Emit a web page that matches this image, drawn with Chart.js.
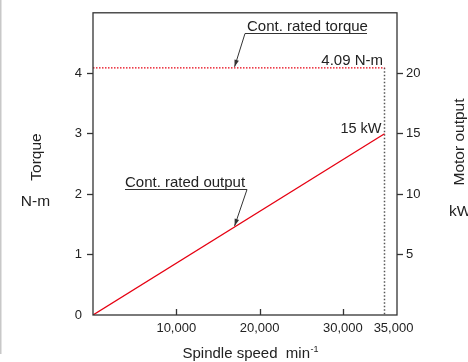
<!DOCTYPE html>
<html>
<head>
<meta charset="utf-8">
<script src="https://cdn.jsdelivr.net/npm/chart.js@4/dist/chart.umd.min.js"></script>
<style>
    html, body { margin: 0; padding: 0; background: #fff; }
    #wrap { width: 468px; height: 362px; }
</style>
</head>
<body>
<div id="wrap"><canvas id="chart" width="468" height="362"></canvas></div>
<script>
const speed = [0, 35000];
const output = [0, 15];
const torque = [4.09, 4.09];
const torqueTicks = [0, 1, 2, 3, 4];
const powerTicks = [5, 10, 15, 20];
const speedTicks = [10000, 20000, 30000, 35000];
const speedLabels = ["10,000", "20,000", "30,000", "35,000"];

const FONT = "'Liberation Sans', Arial, Helvetica, sans-serif";
const INK = "#222";
const RED = "#e60012";

function arrow(ctx, x0, y0, x1, y1) {
    ctx.beginPath();
    ctx.moveTo(x0, y0);
    ctx.lineTo(x1, y1);
    ctx.stroke();
    const a = Math.atan2(y1 - y0, x1 - x0);
    const len = 7, half = 2.3;
    ctx.beginPath();
    ctx.moveTo(x1, y1);
    ctx.lineTo(x1 - len * Math.cos(a) + half * Math.sin(a), y1 - len * Math.sin(a) - half * Math.cos(a));
    ctx.lineTo(x1 - len * Math.cos(a) - half * Math.sin(a), y1 - len * Math.sin(a) + half * Math.cos(a));
    ctx.closePath();
    ctx.fill();
}

const decorations = {
    id: "decorations",
    afterDraw(chart) {
        const ctx = chart.ctx;
        const area = chart.chartArea;
        const x = chart.scales.x, y = chart.scales.y, yR = chart.scales.yR;
        ctx.save();

        // light page edge
        ctx.strokeStyle = "#c8c8c8";
        ctx.lineWidth = 1.5;
        ctx.beginPath();
        ctx.moveTo(0.75, 0);
        ctx.lineTo(0.75, 354);
        ctx.stroke();

        // frame
        ctx.strokeStyle = "#333";
        ctx.lineWidth = 1.3;
        ctx.strokeRect(area.left, area.top, area.right - area.left, area.bottom - area.top);

        // inward x ticks
        ctx.beginPath();
        speedTicks.slice(0, 3).forEach(v => {
            const px = Math.round(x.getPixelForValue(v)) + 0.5;
            ctx.moveTo(px, area.bottom);
            ctx.lineTo(px, area.bottom - 6);
        });
        ctx.stroke();

        // x labels
        ctx.fillStyle = INK;
        ctx.font = "13px " + FONT;
        ctx.textAlign = "center";
        ctx.textBaseline = "middle";
        speedTicks.forEach((v, i) => {
            const shift = v === 35000 ? 9 : 0;
            ctx.fillText(speedLabels[i], x.getPixelForValue(v) + shift, 328);
        });

        // axis titles
        ctx.font = "15px " + FONT;
        ctx.textAlign = "left";
        ctx.textBaseline = "alphabetic";
        const main = "Spindle speed  min";
        const w = ctx.measureText(main).width;
        ctx.font = "9px " + FONT;
        const sw = ctx.measureText("-1").width;
        const start = 250.5 - (w + sw + 0.5) / 2;
        ctx.fillText("-1", start + w + 0.5, 351.5);
        ctx.font = "15px " + FONT;
        ctx.fillText(main, start, 358);

        ctx.font = "15.5px " + FONT;
        ctx.textAlign = "center";
        ctx.textBaseline = "middle";
        ctx.fillText("N-m", 35.5, 202);
        ctx.save();
        ctx.translate(36.5, 157);
        ctx.rotate(-Math.PI / 2);
        ctx.fillText("Torque", 0, 0);
        ctx.restore();
        ctx.save();
        ctx.translate(460, 142);
        ctx.rotate(-Math.PI / 2);
        ctx.fillText("Motor output", 0, 0);
        ctx.restore();
        ctx.textAlign = "left";
        ctx.fillText("kW", 449, 212);

        // annotations
        ctx.font = "15px " + FONT;
        ctx.textBaseline = "alphabetic";
        ctx.textAlign = "right";
        ctx.fillText("4.09 N-m", 383, 64.5);
        ctx.font = "14.5px " + FONT;
        ctx.fillText("15 kW", 381.5, 133);

        ctx.font = "15px " + FONT;
        ctx.textAlign = "left";
        ctx.fillText("Cont. rated torque", 247, 30.5);
        ctx.fillText("Cont. rated output", 125, 186.5);

        ctx.strokeStyle = "#333";
        ctx.fillStyle = "#333";
        ctx.lineWidth = 1;
        ctx.beginPath();
        ctx.moveTo(245, 33.5);
        ctx.lineTo(367, 33.5);
        ctx.moveTo(125, 189.5);
        ctx.lineTo(247, 189.5);
        ctx.stroke();

        const tx = x.getPixelForValue(17000);
        arrow(ctx, 245, 33.5, tx, y.getPixelForValue(torque[0]) - 1);
        const oy = yR.getPixelForValue(output[1] * 17000 / speed[1]);
        arrow(ctx, 247, 189.5, tx, oy - 1);

        ctx.restore();
    }
};

new Chart(document.getElementById("chart"), {
    type: "scatter",
    data: {
        datasets: [
            {
                label: "Cont. rated output",
                data: speed.map((s, i) => ({ x: s, y: output[i] })),
                yAxisID: "yR",
                showLine: true,
                borderColor: RED,
                borderWidth: 1.3,
                pointRadius: 0,
            },
            {
                label: "Cont. rated torque",
                data: speed.map((s, i) => ({ x: s, y: torque[i] })),
                yAxisID: "y",
                showLine: true,
                borderColor: RED,
                borderWidth: 1.3,
                borderDash: [1.5, 1.5],
                pointRadius: 0,
            },
            {
                label: "limit",
                data: [{ x: speed[1], y: torque[1] }, { x: speed[1], y: 0 }],
                yAxisID: "y",
                showLine: true,
                borderColor: "#555",
                borderWidth: 1.5,
                borderDash: [1.5, 2],
                pointRadius: 0,
            }
        ]
    },
    options: {
        responsive: false,
        animation: false,
        layout: { padding: { top: 12, left: 0, right: 0, bottom: 0 } },
        plugins: {
            legend: { display: false },
            tooltip: { enabled: false },
        },
        scales: {
            x: {
                type: "linear",
                min: 0,
                max: 36500,
                ticks: { display: false },
                grid: { display: false },
                border: { display: false },
                afterFit: (s) => { s.height = 47; },
            },
            y: {
                position: "left",
                min: 0,
                max: 5,
                afterBuildTicks: (s) => { s.ticks = torqueTicks.map(v => ({ value: v })); },
                ticks: {
                    color: INK,
                    padding: 5,
                    font: { family: FONT, size: 13 },
                },
                grid: {
                    drawOnChartArea: false,
                    tickLength: 6,
                    tickWidth: 1.3,
                    tickColor: (c) => c.tick && c.tick.value === 0 ? "rgba(0,0,0,0)" : "#333",
                },
                border: { display: false },
                afterFit: (s) => { s.width = 93; },
            },
            yR: {
                position: "right",
                min: 0,
                max: 25,
                afterBuildTicks: (s) => { s.ticks = powerTicks.map(v => ({ value: v })); },
                ticks: {
                    color: INK,
                    padding: 3,
                    font: { family: FONT, size: 13 },
                },
                grid: {
                    drawOnChartArea: false,
                    tickLength: 6,
                    tickWidth: 1.3,
                    tickColor: "#333",
                },
                border: { display: false },
                afterFit: (s) => { s.width = 71; },
            }
        }
    },
    plugins: [decorations]
});
</script>
</body>
</html>
